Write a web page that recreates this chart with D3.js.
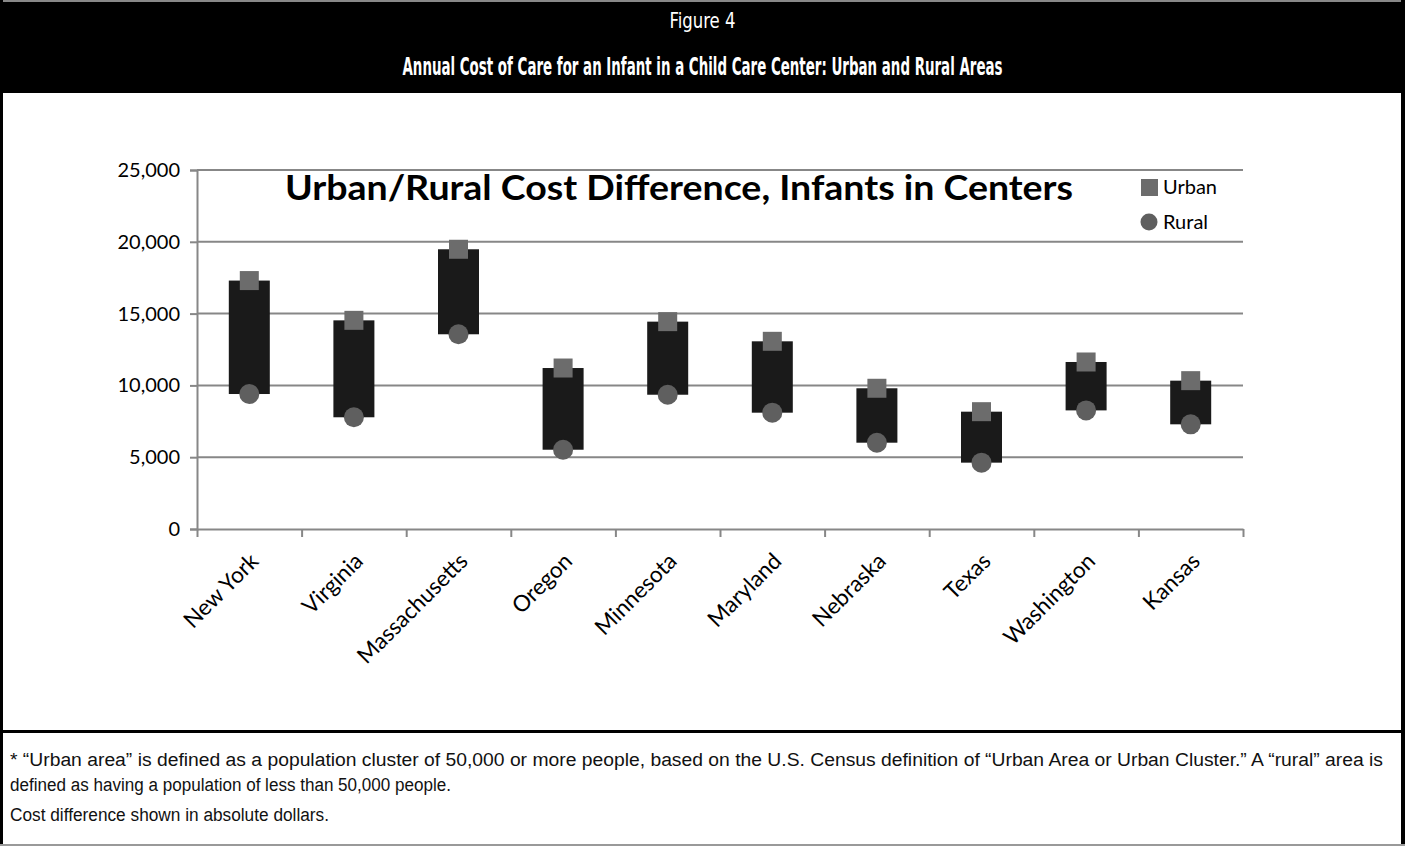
<!DOCTYPE html>
<html>
<head>
<meta charset="utf-8">
<script src="https://cdn.jsdelivr.net/npm/d3@7"></script>
<style>
  html, body { margin: 0; padding: 0; background: #fff; }
  svg { display: block; }
</style>
</head>
<body>
<svg width="1405" height="846"></svg>
<script>
// data
const states = ['New York', 'Virginia', 'Massachusetts', 'Oregon', 'Minnesota',
                'Maryland', 'Nebraska', 'Texas', 'Washington', 'Kansas'];
const urban = [17300, 14530, 19480, 11210, 14440, 13070, 9800, 8170, 11630, 10330];
const rural = [9400, 7780, 13560, 5520, 9350, 8100, 6010, 4620, 8260, 7290];
const yTicks = [0, 5000, 10000, 15000, 20000, 25000];

const W = 1405, H = 846;
const svg = d3.select('svg');

// frame + header band
svg.append('rect').attr('x', 0).attr('y', 0).attr('width', W).attr('height', 2).attr('fill', '#888');
svg.append('rect').attr('x', 0).attr('y', 2).attr('width', W).attr('height', 91).attr('fill', '#000');
svg.append('rect').attr('x', 0).attr('y', 0).attr('width', 3).attr('height', H).attr('fill', '#000');
svg.append('rect').attr('x', W - 4).attr('y', 0).attr('width', 4).attr('height', H).attr('fill', '#000');
svg.append('rect').attr('x', 0).attr('y', 730).attr('width', W).attr('height', 3).attr('fill', '#000');
svg.append('rect').attr('x', 0).attr('y', H - 2).attr('width', W).attr('height', 2).attr('fill', '#999');

const headFont = '"Liberation Sans Narrow", "DejaVu Sans Condensed", sans-serif';
svg.append('text')
    .attr('x', W / 2).attr('y', 28)
    .attr('text-anchor', 'middle')
    .attr('textLength', 66).attr('lengthAdjust', 'spacingAndGlyphs')
    .style('font-family', headFont)
    .style('font-size', '22px')
    .attr('fill', '#fff')
    .text('Figure 4');

svg.append('text')
    .attr('x', W / 2).attr('y', 75)
    .attr('text-anchor', 'middle')
    .attr('textLength', 600).attr('lengthAdjust', 'spacingAndGlyphs')
    .style('font-family', headFont)
    .style('font-size', '24px')
    .style('font-weight', 'bold')
    .attr('fill', '#fff')
    .text('Annual Cost of Care for an Infant in a Child Care Center: Urban and Rural Areas');

// chart
const x = d3.scaleBand().domain(states).range([197, 1243]).padding(0);
const y = d3.scaleLinear().domain([0, 25000]).range([529, 170]);
const barW = 41;
const gridColor = '#878787';
const chartFont = 'Lato, "Open Sans", sans-serif';

// gridlines
svg.append('g')
    .selectAll('line')
    .data(yTicks.filter(d => d > 0))
    .enter()
    .append('line')
    .attr('x1', 197).attr('x2', 1243)
    .attr('y1', d => y(d)).attr('y2', d => y(d))
    .attr('stroke', gridColor).attr('stroke-width', 2);

// y axis
const yAxis = svg.append('g')
    .attr('transform', 'translate(197,0)')
    .call(d3.axisLeft(y).tickValues(yTicks).tickSize(7).tickPadding(10)
        .tickFormat(d3.format(',')));
yAxis.select('.domain').attr('stroke', gridColor).attr('stroke-width', 2);
yAxis.selectAll('.tick line').attr('stroke', gridColor).attr('stroke-width', 2);
yAxis.selectAll('.tick text')
    .style('font-family', chartFont).style('font-size', '20px').attr('fill', '#000');

// x axis: ticks between categories
const edges = d3.range(states.length + 1);
const xe = d3.scaleLinear().domain([0, states.length]).range([197, 1243]);
const xAxis = svg.append('g')
    .attr('transform', 'translate(0,529)')
    .call(d3.axisBottom(xe).tickValues(edges).tickSize(8).tickSizeOuter(0).tickFormat(''));
xAxis.select('.domain').attr('stroke', gridColor).attr('stroke-width', 2);
xAxis.selectAll('.tick line').attr('stroke', gridColor).attr('stroke-width', 2);

svg.append('g')
    .selectAll('text')
    .data(states)
    .enter()
    .append('text')
    .attr('transform', d => `translate(${x(d) + x.bandwidth() / 2 + 5},${557}) rotate(-45)`)
    .attr('text-anchor', 'end')
    .attr('dy', '0.35em')
    .style('font-family', chartFont).style('font-size', '22.5px')
    .attr('fill', '#000')
    .text(d => d);

// up/down bars
svg.append('g')
    .selectAll('rect')
    .data(states)
    .enter()
    .append('rect')
    .attr('x', d => x(d) + x.bandwidth() / 2 - barW / 2)
    .attr('width', barW)
    .attr('y', (d, i) => y(urban[i]))
    .attr('height', (d, i) => y(rural[i]) - y(urban[i]))
    .attr('fill', '#1a1a1a');

// urban squares
const sq = 19;
svg.append('g')
    .selectAll('rect')
    .data(states)
    .enter()
    .append('rect')
    .attr('x', d => x(d) + x.bandwidth() / 2 - sq / 2)
    .attr('y', (d, i) => y(urban[i]) - sq / 2)
    .attr('width', sq).attr('height', sq)
    .attr('fill', '#6c6c6c');

// rural circles
svg.append('g')
    .selectAll('circle')
    .data(states)
    .enter()
    .append('circle')
    .attr('cx', d => x(d) + x.bandwidth() / 2)
    .attr('cy', (d, i) => y(rural[i]))
    .attr('r', 10)
    .attr('fill', '#5f5f5f');

// chart title
svg.append('text')
    .attr('x', 285).attr('y', 200)
    .attr('textLength', 788).attr('lengthAdjust', 'spacingAndGlyphs')
    .style('font-family', chartFont).style('font-size', '34px').style('font-weight', 'bold')
    .attr('fill', '#000')
    .text('Urban/Rural Cost Difference, Infants in Centers');

// legend
svg.append('rect').attr('x', 1141).attr('y', 179).attr('width', 17).attr('height', 17).attr('fill', '#6c6c6c');
svg.append('circle').attr('cx', 1149).attr('cy', 222).attr('r', 8.5).attr('fill', '#5f5f5f');
svg.append('text').attr('x', 1163).attr('y', 194)
    .style('font-family', chartFont).style('font-size', '20px').attr('fill', '#000').text('Urban');
svg.append('text').attr('x', 1163).attr('y', 229)
    .style('font-family', chartFont).style('font-size', '20px').attr('fill', '#000').text('Rural');

// footnotes
const noteFont = '"Liberation Sans Narrow", "Liberation Sans", Arial, sans-serif';
svg.append('text').attr('x', 10).attr('y', 766)
    .attr('textLength', 1373).attr('lengthAdjust', 'spacingAndGlyphs')
    .style('font-family', noteFont).style('font-size', '18px').attr('fill', '#111')
    .text('* \u201CUrban area\u201D is defined as a population cluster of 50,000 or more people, based on the U.S. Census definition of \u201CUrban Area or Urban Cluster.\u201D A \u201Crural\u201D area is');
svg.append('text').attr('x', 10).attr('y', 791)
    .attr('textLength', 441).attr('lengthAdjust', 'spacingAndGlyphs')
    .style('font-family', noteFont).style('font-size', '18px').attr('fill', '#111')
    .text('defined as having a population of less than 50,000 people.');
svg.append('text').attr('x', 10).attr('y', 821)
    .attr('textLength', 319).attr('lengthAdjust', 'spacingAndGlyphs')
    .style('font-family', noteFont).style('font-size', '18px').attr('fill', '#111')
    .text('Cost difference shown in absolute dollars.');
</script>
</body>
</html>
